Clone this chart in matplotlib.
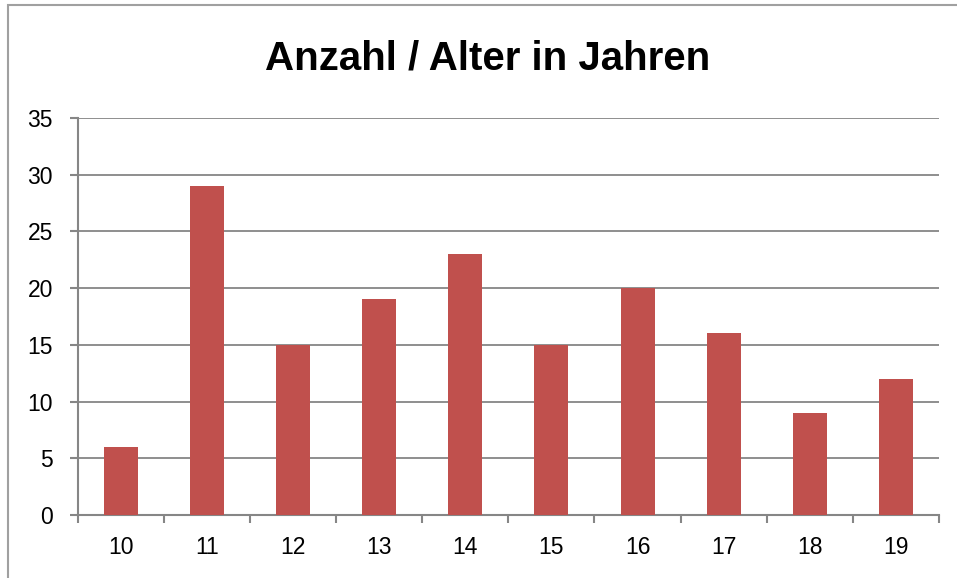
import matplotlib.pyplot as plt
from matplotlib.patches import Rectangle

# data
ages = ['10', '11', '12', '13', '14', '15', '16', '17', '18', '19']
counts = [6, 29, 15, 19, 23, 15, 20, 16, 9, 12]
yticks = [0, 5, 10, 15, 20, 25, 30, 35]

plt.rcParams['font.family'] = ['Liberation Sans', 'DejaVu Sans']

fig = plt.figure(figsize=(9.57, 5.78), dpi=100)
ax = fig.add_axes([0.0815, 0.109, 0.8995, 0.687])

grid_col = '#868686'
x = list(range(len(ages)))
ax.bar(x, counts, width=0.395, color='#C0504D', zorder=3)

ax.set_xlim(-0.5, len(ages) - 0.5)
ax.set_ylim(0, 35)
ax.set_yticks(yticks)
ax.set_xticks(x)
ax.set_xticklabels(ages)
ax.set_xticks([i - 0.5 for i in range(len(ages) + 1)], minor=True)

ax.yaxis.grid(True, color=grid_col, linewidth=1.3, zorder=0)
ax.set_axisbelow(True)
for s in ['top', 'right']:
    ax.spines[s].set_visible(False)
for s in ['left', 'bottom']:
    ax.spines[s].set_color(grid_col)
    ax.spines[s].set_linewidth(1.5)

ax.tick_params(axis='x', which='major', length=0, pad=15, labelsize=16.5)
ax.tick_params(axis='x', which='minor', length=6, width=1.5, color=grid_col)
ax.tick_params(axis='y', length=6, width=1.5, color=grid_col, pad=12, labelsize=16.5)

fig.text(0.51, 0.899, 'Anzahl / Alter in Jahren', ha='center', va='center',
         fontsize=29, fontweight='bold')

# chart area border
fig.patches.append(Rectangle((8 / 957, -0.1), 1.2, 1.1 - 5 / 578, transform=fig.transFigure,
                             fill=False, edgecolor='#A0A0A0', linewidth=1.5))

fig.savefig('out.png', dpi=100)
